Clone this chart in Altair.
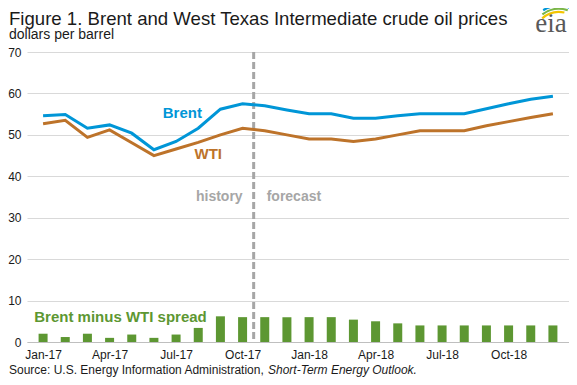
import json
import altair as alt
import pandas as pd

# ---------------- data ----------------
months = ["Jan-17", "Feb-17", "Mar-17", "Apr-17", "May-17", "Jun-17",
          "Jul-17", "Aug-17", "Sep-17", "Oct-17", "Nov-17", "Dec-17",
          "Jan-18", "Feb-18", "Mar-18", "Apr-18", "May-18", "Jun-18",
          "Jul-18", "Aug-18", "Sep-18", "Oct-18", "Nov-18", "Dec-18"]
brent = [54.6, 54.9, 51.6, 52.4, 50.4, 46.4, 48.4, 51.6, 56.2, 57.5, 57.0, 56.0,
         55.1, 55.1, 54.0, 54.0, 54.6, 55.1, 55.1, 55.1, 56.3, 57.5, 58.6, 59.3]
wti = [52.7, 53.5, 49.4, 51.2, 48.1, 45.0, 46.6, 48.2, 50.0, 51.6, 51.0, 50.0,
       49.0, 49.0, 48.4, 49.0, 50.0, 51.0, 51.0, 51.0, 52.2, 53.2, 54.2, 55.1]
spread = [2.0, 1.2, 2.0, 1.0, 1.8, 1.0, 1.8, 3.4, 6.2, 6.0, 6.0, 6.0,
          6.0, 6.0, 5.4, 5.0, 4.5, 4.0, 4.0, 4.0, 4.0, 4.0, 4.0, 4.0]
tick_months = ["Jan-17", "Apr-17", "Jul-17", "Oct-17",
               "Jan-18", "Apr-18", "Jul-18", "Oct-18"]
y_ticks = [0, 10, 20, 30, 40, 50, 60, 70]
forecast_start = "Nov-17"

title_text = "Figure 1. Brent and West Texas Intermediate crude oil prices"
subtitle_text = "dollars per barrel"
source_plain = "Source: U.S. Energy Information Administration, "
source_italic = "Short-Term Energy Outlook"

series_labels = [
    {"text": "Brent", "idx": 6.28, "val": 55.2, "color": "#0096D7", "align": "center"},
    {"text": "WTI", "idx": 7.45, "val": 45.4, "color": "#BD732A", "align": "center"},
    {"text": "Brent minus WTI spread", "idx": -0.40, "val": 6.0, "color": "#5D9732", "align": "left"},
]

# ---------------- tables ----------------
df = pd.DataFrame({
    "idx": list(range(len(months))),
    "month": months,
    "Brent": brent,
    "WTI": wti,
    "spread": spread,
})
div_x = months.index(forecast_start) - 0.5
div_df = pd.DataFrame({"idx": [div_x], "val": [35.0]})
lab_df = pd.DataFrame(series_labels)

W, H = 542, 290
FONT = "Liberation Sans"
TXT = "#1a1a1a"

x_scale = alt.Scale(domain=[-0.5, len(months) - 0.5], nice=False, zero=False)
y_scale = alt.Scale(domain=[0, 70], nice=False, zero=True)

x_axis = alt.Axis(
    values=[months.index(m) for m in tick_months],
    labelExpr=json.dumps(months) + "[datum.value]",
    title=None, grid=False, ticks=False, tickSize=0,
    domainColor="#BFBFBF", domainWidth=1,
    labelFont=FONT, labelFontSize=12, labelColor=TXT, labelPadding=7,
)
y_axis = alt.Axis(
    values=y_ticks, title=None, grid=True, gridColor="#D9D9D9", gridWidth=1,
    domain=False, ticks=False, tickSize=0, labelPadding=6,
    labelFont=FONT, labelFontSize=12, labelColor=TXT,
)

def X(field):
    return alt.X(field, scale=x_scale, axis=x_axis, title=None)

def Y(field):
    return alt.Y(field, scale=y_scale, axis=y_axis, title=None)

base = alt.Chart(df)

bars = base.mark_bar(size=9, color="#5D9732").encode(
    x=X("idx:Q"), y=Y("spread:Q"),
)
wti_line = base.mark_line(color="#BD732A", strokeWidth=3).encode(
    x=X("idx:Q"), y=Y("WTI:Q"),
)
brent_line = base.mark_line(color="#0096D7", strokeWidth=3).encode(
    x=X("idx:Q"), y=Y("Brent:Q"),
)

divider = alt.Chart(div_df).mark_rule(
    color="#A6A6A6", strokeWidth=3, strokeDash=[7, 3]
).encode(
    x=X("idx:Q"),
    y=alt.value(0),
    y2=alt.value(H),
)

hist_txt = alt.Chart(div_df).mark_text(
    text="history", align="right", baseline="middle", dx=-11,
    font=FONT, fontSize=14, fontWeight="bold", color="#A6A6A6",
).encode(x=X("idx:Q"), y=Y("val:Q"))
fc_txt = alt.Chart(div_df).mark_text(
    text="forecast", align="left", baseline="middle", dx=13,
    font=FONT, fontSize=14, fontWeight="bold", color="#A6A6A6",
).encode(x=X("idx:Q"), y=Y("val:Q"))

def series_label(row):
    d = lab_df[lab_df["text"] == row["text"]]
    return alt.Chart(d).mark_text(
        align=row["align"], baseline="middle", font=FONT, fontSize=15,
        fontWeight="bold", color=row["color"],
    ).encode(x=X("idx:Q"), y=Y("val:Q"), text="text:N")

label_layers = [series_label(r) for r in series_labels]

one = pd.DataFrame({"a": [0]})

def free_text(txt, x, y, size, weight="normal", style="normal", color=TXT,
              font=FONT, align="left"):
    return alt.Chart(one).mark_text(
        text=txt, align=align, baseline="alphabetic", font=font, fontSize=size,
        fontWeight=weight, fontStyle=style, color=color,
    ).encode(x=alt.value(x), y=alt.value(y))

title = free_text(title_text, -18, -27.5, 18.6)
subtitle = free_text(subtitle_text, -18, -13, 14)
src1 = free_text(source_plain, -18, 322, 12)
src2 = free_text(source_italic + ".", -18 + 259, 322, 12, style="italic")
logo = free_text("eia", 524, -20, 27, font="Liberation Serif", color="#595959",
                 align="center")

arcs = []
for col, r0, t0 in [("#F2C500", 24, 5.55), ("#7AB648", 27, 5.65), ("#0096D7", 30, 5.75)]:
    arcs.append(
        alt.Chart(one).mark_arc(
            radius=r0 + 2.2, radius2=r0, theta=t0, theta2=t0 + 0.95,
            color=col, x=532, y=-15,
        ).encode(opacity=alt.value(1))
    )

chart = alt.layer(
    bars, divider, wti_line, brent_line, hist_txt, fc_txt,
    *label_layers, title, subtitle, src1, src2, logo, *arcs,
).properties(
    width=W, height=H,
    padding={"left": 19, "top": 44, "right": 0, "bottom": 35},
    autosize=alt.AutoSizeParams(type="none"),
    background="white",
).configure_view(stroke=None)

chart.save("out.html", embed_options={"renderer": "svg", "actions": False})
